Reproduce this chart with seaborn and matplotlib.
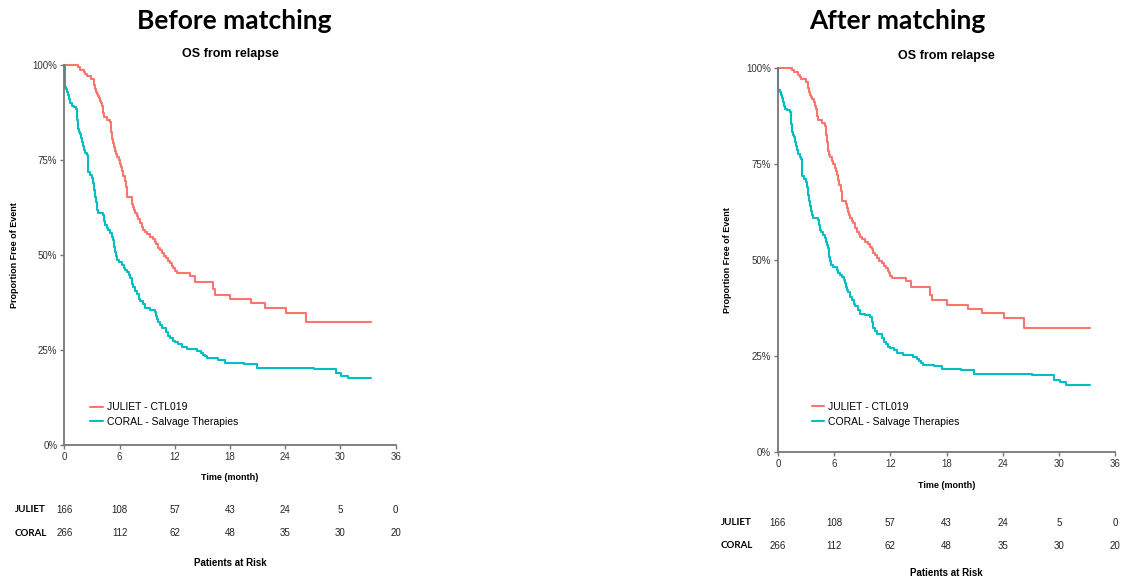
import numpy as np
import pandas as pd
import matplotlib
matplotlib.use("Agg")
import matplotlib.pyplot as plt
import matplotlib.transforms as mtransforms
from matplotlib.ticker import FuncFormatter
import seaborn as sns

# curvas de Kaplan-Meier (tiempo en meses, % libre de evento)
juliet_t = [0, 1.5, 1.75, 2.1, 2.3, 2.45, 2.95, 3.2, 3.3, 3.4, 3.55, 3.65, 3.8, 3.9,
            4.0, 4.1, 4.2, 4.3, 4.65, 5.0, 5.1, 5.2, 5.3, 5.35, 5.5, 5.6, 5.75, 5.9,
            6.05, 6.2, 6.3, 6.4, 6.55, 6.7, 6.8, 7.3, 7.4, 7.5, 7.6, 7.7, 7.9, 8.05,
            8.2, 8.4, 8.6, 8.8, 9.0, 9.3, 9.6, 9.85, 10.0, 10.2, 10.4, 10.6, 10.8,
            11.1, 11.3, 11.5, 11.7, 11.85, 12.0, 12.2, 13.7, 14.2, 16.2, 16.4, 18.0,
            20.3, 21.8, 24.1, 26.3, 33.3]
juliet_s = [100, 99.4, 98.8, 98.2, 97.6, 97.0, 96.4, 94.8, 93.6, 93.0, 92.4, 91.8,
            91.2, 90.6, 90.0, 89.2, 87.5, 86.3, 85.5, 84.9, 82.5, 80.6, 79.4, 78.4,
            77.4, 76.7, 75.8, 74.9, 74.0, 73.2, 72.0, 70.8, 69.4, 68.0, 65.3, 64.5,
            63.5, 62.6, 61.8, 61.0, 60.2, 59.6, 58.4, 57.4, 56.7, 56.0, 55.4, 54.8,
            54.2, 53.5, 52.8, 51.8, 51.2, 50.5, 49.8, 49.1, 48.5, 48.0, 47.2, 46.5,
            45.8, 45.2, 44.6, 42.9, 41.0, 39.5, 38.4, 37.3, 36.1, 34.8, 32.4, 32.4]

coral_t = [0, 0.05, 0.2, 0.3, 0.4, 0.5, 0.65, 0.8, 1.0, 1.3, 1.35, 1.4, 1.45, 1.5,
           1.6, 1.75, 1.85, 1.9, 2.0, 2.1, 2.3, 2.45, 2.55, 2.6, 2.8, 3.0, 3.15, 3.25,
           3.35, 3.45, 3.5, 3.6, 3.7, 4.25, 4.35, 4.45, 4.6, 4.8, 5.0, 5.15, 5.25,
           5.35, 5.45, 5.5, 5.6, 5.7, 5.9, 6.25, 6.45, 6.6, 6.8, 7.0, 7.15, 7.3, 7.4,
           7.5, 7.7, 7.9, 8.1, 8.25, 8.5, 8.8, 9.3, 9.85, 10.0, 10.1, 10.2, 10.4,
           10.6, 11.1, 11.3, 11.5, 11.8, 12.0, 12.4, 12.75, 13.3, 14.4, 14.8, 15.1,
           15.3, 15.5, 16.7, 17.5, 19.5, 20.9, 27.1, 29.5, 30.1, 30.8, 33.3]
coral_s = [100, 94.2, 93.6, 93.0, 92.0, 91.1, 90.0, 89.3, 88.9, 88.5, 87.0, 85.4,
           84.3, 83.2, 82.5, 81.9, 80.8, 79.7, 78.6, 77.6, 76.9, 76.2, 74.0, 71.8,
           71.0, 70.2, 68.9, 67.0, 65.3, 64.0, 62.7, 61.8, 61.0, 60.5, 59.0, 57.9,
           57.2, 56.6, 55.7, 54.8, 54.0, 53.1, 52.0, 50.9, 49.8, 48.7, 48.2, 47.4,
           46.7, 46.0, 45.6, 44.8, 44.0, 43.0, 42.3, 41.7, 40.5, 39.7, 38.5, 38.0,
           37.0, 36.0, 35.6, 35.1, 34.0, 33.2, 32.4, 31.5, 30.7, 29.8, 28.8, 28.1,
           27.5, 27.2, 26.5, 25.9, 25.2, 24.8, 24.3, 23.8, 23.3, 22.8, 22.4, 21.7,
           21.3, 20.3, 20.0, 18.9, 18.2, 17.6, 17.6]

series = ["JULIET - CTL019", "CORAL - Salvage Therapies"]
colores = ["#F8766D", "#00BFC4"]

risk_times = [0, 6, 12, 18, 24, 30, 36]
juliet_risk = [166, 108, 57, 43, 24, 5, 0]
coral_risk = [266, 112, 62, 48, 35, 30, 20]

paneles = ["Before matching", "After matching"]

df = pd.concat([
    pd.DataFrame({"t": juliet_t, "s": juliet_s, "grupo": series[0]}),
    pd.DataFrame({"t": coral_t, "s": coral_s, "grupo": series[1]}),
])

sns.set_style("white")
plt.rcParams["font.family"] = ["Liberation Sans", "DejaVu Sans"]
plt.rcParams["text.color"] = "black"
plt.rcParams["axes.labelcolor"] = "black"

fig = plt.figure(figsize=(11.22, 5.80), dpi=100)
W, H = 1122, 580

# bordes de cada panel en pixeles, leyenda (x, y) en fraccion de ejes,
# filas de la tabla (JULIET, CORAL, titulo) en fraccion de ejes
layout = [
    dict(x0=64.3, x1=395.7, y0=65, y1=445, leg=(0.078, 0.080), rowx=15, tx=234,
         filas=(-0.171, -0.232, -0.311)),
    dict(x0=778, x1=1115, y0=67.7, y1=452.3, leg=(0.100, 0.099), rowx=721, tx=897,
         filas=(-0.183, -0.243, -0.313)),
]

for nombre, L in zip(paneles, layout):
    ax = fig.add_axes([L["x0"] / W, 1 - L["y1"] / H,
                       (L["x1"] - L["x0"]) / W, (L["y1"] - L["y0"]) / H])
    sns.lineplot(data=df, x="t", y="s", hue="grupo", palette=colores,
                 hue_order=series, estimator=None, sort=False,
                 drawstyle="steps-post", linewidth=1.5, ax=ax)
    for ln in ax.get_lines():
        ln.set_clip_on(False)

    ax.set_xlim(0, 36)
    ax.set_ylim(0, 100)
    ax.set_xticks(risk_times)
    ax.set_yticks([0, 25, 50, 75, 100])
    ax.yaxis.set_major_formatter(FuncFormatter(lambda v, p: f"{v:.0f}%"))
    for s in ["top", "right"]:
        ax.spines[s].set_visible(False)
    for s in ["left", "bottom"]:
        ax.spines[s].set_color("#777777")
        ax.spines[s].set_linewidth(1.3)
    ax.tick_params(axis="both", which="major", length=3, width=1, color="#777777",
                   labelsize=7, labelcolor="#333333", pad=2, left=True, bottom=True)

    ax.set_xlabel("Time (month)", fontsize=6.5, fontweight="bold")
    ax.set_ylabel("Proportion Free of Event", fontsize=6.5, fontweight="bold")
    ax.xaxis.set_label_coords(0.5, -0.074)
    ax.yaxis.set_label_coords(-0.137, 0.5)
    ax.set_title("OS from relapse", fontsize=9, fontweight="bold", pad=6)

    leg = ax.get_legend()
    handles = leg.legend_handles
    ax.legend(handles, series, loc="center left", bbox_to_anchor=L["leg"],
              frameon=False, fontsize=7.5, handlelength=1.2, handletextpad=0.4,
              labelspacing=0.45, borderpad=0, borderaxespad=0)

    # tabla de pacientes en riesgo
    tr = ax.get_xaxis_transform()
    fila_y = L["filas"][:2]
    for yy, nums in zip(fila_y, [juliet_risk, coral_risk]):
        for t, n in zip(risk_times, nums):
            ax.text(t, yy, str(n), transform=tr, ha="center", va="center",
                    fontsize=7, color="#222222", clip_on=False)
    trf = mtransforms.blended_transform_factory(fig.transFigure, ax.transAxes)
    for yy, nom in zip(fila_y, ["JULIET", "CORAL"]):
        ax.text(L["rowx"] / W, yy, nom, transform=trf, ha="left", va="center",
                fontsize=7, fontweight="bold", family=["Lato", "DejaVu Sans"])
    ax.text(18, L["filas"][2], "Patients at Risk", transform=tr, ha="center",
            va="center", fontsize=7, fontweight="bold")

    fig.text(L["tx"] / W, 1 - 21 / H, nombre, ha="center", va="center",
             fontsize=19, fontweight="bold", family=["Lato", "DejaVu Sans"])

fig.savefig("out.png", dpi=100)
